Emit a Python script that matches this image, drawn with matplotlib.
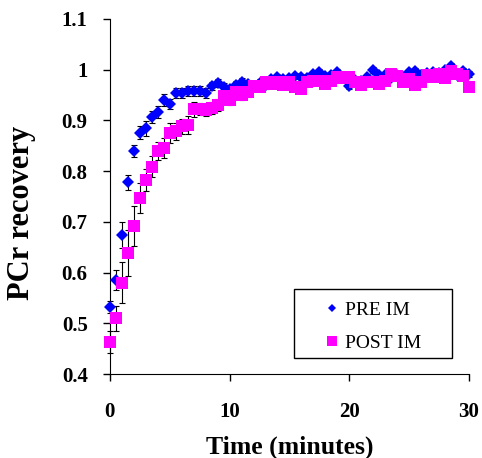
#导入绘图库
import matplotlib
matplotlib.use('Agg')
import matplotlib.pyplot as plt
from matplotlib.ticker import FixedLocator, FixedFormatter
from matplotlib.patches import Rectangle

#字体设置(Times风格)
plt.rcParams['font.family'] = ['Liberation Serif', 'DejaVu Serif']

#时间(分钟)
time_min = [i * 0.5 for i in range(61)]

#PRE IM 数据
pre_im = [0.532, 0.585, 0.674, 0.778, 0.840, 0.876, 0.884, 0.906, 0.917, 0.940,
          0.932, 0.954, 0.954, 0.957, 0.957, 0.957, 0.953, 0.968, 0.973, 0.966,
          0.962, 0.970, 0.975, 0.972, 0.968, 0.974, 0.970, 0.982, 0.985, 0.982,
          0.984, 0.988, 0.986, 0.984, 0.992, 0.995, 0.988, 0.990, 0.995, 0.985,
          0.968, 0.980, 0.978, 0.985, 1.000, 0.990, 0.990, 0.984, 0.990, 0.985,
          0.995, 0.998, 0.990, 0.993, 0.995, 0.993, 1.000, 1.007, 0.990, 0.998,
          0.992]
pre_err = [0.012, 0.020, 0.025, 0.015, 0.012, 0.012, 0.015, 0.012, 0.012, 0.012,
           0.010, 0.010, 0.010, 0.010, 0.010, 0.010, 0.010, 0.008, 0.008, 0.008,
           0.008, 0.008, 0.008, 0.008, 0.008, 0.008, 0.008, 0.006, 0.006, 0.006,
           0.006, 0.006, 0.006, 0.006, 0.006, 0.006, 0.006, 0.006, 0.006, 0.006,
           0.006, 0.006, 0.006, 0.006, 0.006, 0.006, 0.006, 0.006, 0.006, 0.006,
           0.006, 0.006, 0.006, 0.006, 0.006, 0.006, 0.006, 0.006, 0.006, 0.006,
           0.006]

#POST IM 数据
post_im = [0.463, 0.510, 0.580, 0.639, 0.692, 0.747, 0.783, 0.809, 0.840, 0.845,
           0.875, 0.878, 0.888, 0.891, 0.922, 0.922, 0.920, 0.924, 0.930, 0.947,
           0.940, 0.955, 0.950, 0.956, 0.968, 0.965, 0.975, 0.972, 0.975, 0.970,
           0.976, 0.966, 0.962, 0.975, 0.977, 0.978, 0.972, 0.978, 0.985, 0.984,
           0.986, 0.975, 0.970, 0.976, 0.975, 0.972, 0.978, 0.992, 0.988, 0.975,
           0.982, 0.970, 0.975, 0.990, 0.985, 0.992, 0.983, 0.998, 0.992, 0.988,
           0.965]
post_err = [0.022, 0.025, 0.040, 0.045, 0.040, 0.030, 0.022, 0.020, 0.018, 0.020,
            0.020, 0.017, 0.015, 0.018, 0.015, 0.012, 0.012, 0.012, 0.012, 0.010,
            0.010, 0.010, 0.010, 0.010, 0.010, 0.008, 0.008, 0.008, 0.008, 0.008,
            0.008, 0.008, 0.008, 0.008, 0.008, 0.008, 0.008, 0.008, 0.008, 0.008,
            0.008, 0.008, 0.008, 0.008, 0.008, 0.008, 0.008, 0.008, 0.008, 0.008,
            0.008, 0.008, 0.008, 0.008, 0.008, 0.008, 0.008, 0.008, 0.008, 0.008,
            0.008]

#坐标轴刻度
x_ticks = [0, 10, 20, 30]
y_ticks = [0.4, 0.5, 0.6, 0.7, 0.8, 0.9, 1.0, 1.1]
y_labels = ['0.4', '0.5', '0.6', '0.7', '0.8', '0.9', '1', '1.1']

fig = plt.figure(figsize=(4.82, 4.58), dpi=100)
ax = fig.add_axes([0.228, 0.183, 0.745, 0.776])

#误差线
ax.errorbar(time_min, pre_im, yerr=pre_err, fmt='none', ecolor='black',
            elinewidth=0.8, capsize=2, capthick=0.8, zorder=2, clip_on=False)
ax.errorbar(time_min, post_im, yerr=post_err, fmt='none', ecolor='black',
            elinewidth=0.8, capsize=2, capthick=0.8, zorder=2, clip_on=False)

#数据点
ax.plot(time_min, pre_im, 'D', color='#0000FF', markersize=6, markeredgewidth=0,
        label='PRE IM', zorder=3, clip_on=False)
ax.plot(time_min, post_im, 's', color='#FF00FF', markersize=8.5, markeredgewidth=0,
        label='POST IM', zorder=4, clip_on=False)

ax.set_xlim(0, 30)
ax.set_ylim(0.4, 1.1)
ax.xaxis.set_major_locator(FixedLocator(x_ticks))
ax.yaxis.set_major_locator(FixedLocator(y_ticks))
ax.yaxis.set_major_formatter(FixedFormatter(y_labels))
ax.tick_params(direction='out', length=5, width=1, labelsize=15)
ax.tick_params(axis='y', pad=11)
ax.tick_params(axis='x', pad=15)
for lab in ax.get_xticklabels() + ax.get_yticklabels():
    lab.set_fontweight('bold')
ax.spines['top'].set_visible(False)
ax.spines['right'].set_visible(False)

ax.set_xlabel('Time (minutes)', fontsize=18.5, fontweight='bold')
ax.xaxis.set_label_coords(0.5, -0.172)
ax.set_ylabel('PCr recovery', fontsize=22, fontweight='bold')
ax.yaxis.set_label_coords(-0.206, 0.4535)

#图例(边框单独画)
leg = ax.legend(loc='upper left', bbox_to_anchor=(324.0 / 482, 1 - 301.0 / 458),
                bbox_transform=fig.transFigure, fontsize=14, frameon=False,
                borderaxespad=0, borderpad=0, handlelength=0.8,
                handletextpad=0.27, labelspacing=0.8)
leg.legend_handles[0].set_markersize(4.5)
leg.legend_handles[1].set_markersize(7.5)
fig.patches.append(Rectangle((294.0 / 482, 1 - 358.0 / 458), 158.0 / 482, 69.0 / 458,
                             transform=fig.transFigure, fill=False,
                             edgecolor='black', linewidth=1))

fig.savefig('out.png', dpi=100)
